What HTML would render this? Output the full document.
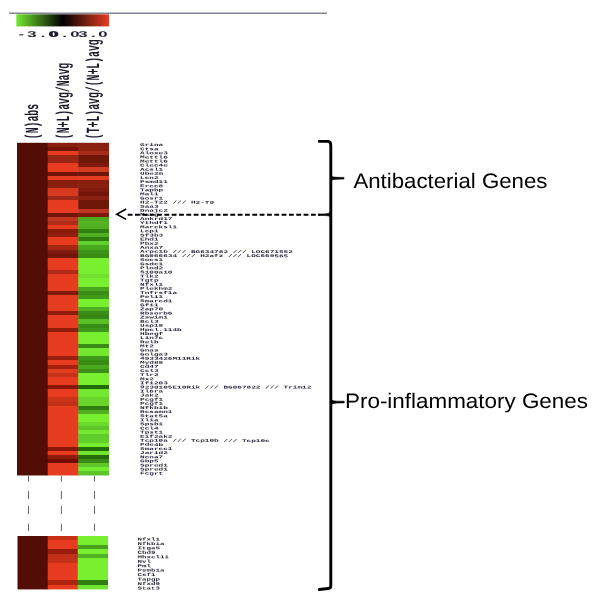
<!DOCTYPE html>
<html lang="en"><head><meta charset="utf-8"><title>Heatmap</title>
<style>html,body{margin:0;padding:0;background:#fff}body{width:600px;height:606px;overflow:hidden;position:relative}svg{position:absolute;left:0;top:0;display:block}text{text-rendering:geometricPrecision}.m{font-family:"Liberation Mono","DejaVu Sans Mono",monospace}.s{font-family:"Liberation Sans","DejaVu Sans",sans-serif}</style></head><body>
<svg width="600" height="606" viewBox="0 0 600 606">
<defs><linearGradient id="cb" x1="0" y1="0" x2="1" y2="0"><stop offset="0" stop-color="#74e82e"/><stop offset="0.5" stop-color="#000000"/><stop offset="1" stop-color="#e83c20"/></linearGradient></defs>
<rect x="0" y="0" width="600" height="606" fill="#ffffff"/>
<line x1="9" y1="13.3" x2="327" y2="13.3" stroke="#7f8591" stroke-width="1.4"/>
<rect x="16.3" y="14.3" width="92.7" height="12.1" fill="url(#cb)"/>
<g class="s" font-size="8.4" font-weight="bold" fill="#1c1c2c" text-anchor="middle">
<text transform="translate(0,37.1) scale(2.0,1)" x="10.65 15.95 21.60 26.50">-3.0</text>
<text transform="translate(0,37.1) scale(2.0,1)" x="27.15 32.25 37.50">0.0</text>
<text transform="translate(0,37.1) scale(2.0,1)" x="41.50 46.70 51.50">3.0</text>
</g>
<g class="m" font-size="9.8" font-weight="bold" fill="#1c1c2c">
<text transform="translate(37.6,139.2) scale(1.9,1) rotate(-90)">(N)abs</text>
<text transform="translate(69.0,139.2) scale(1.9,1) rotate(-90)">(N+L)avg/Navg</text>
<text transform="translate(99.0,139.2) scale(1.9,1) rotate(-90)">(T+L)avg/(N+L)avg</text>
</g>
<defs><linearGradient id="u2" x1="0" y1="0" x2="0" y2="1"><stop offset="0.00000" stop-color="#8a2010"/><stop offset="0.01235" stop-color="#8a2010"/><stop offset="0.01235" stop-color="#701508"/><stop offset="0.02469" stop-color="#701508"/><stop offset="0.02469" stop-color="#e83c20"/><stop offset="0.03704" stop-color="#e83c20"/><stop offset="0.03704" stop-color="#982414"/><stop offset="0.04938" stop-color="#982414"/><stop offset="0.04938" stop-color="#9c2616"/><stop offset="0.06173" stop-color="#9c2616"/><stop offset="0.06173" stop-color="#e83c20"/><stop offset="0.08642" stop-color="#e83c20"/><stop offset="0.08642" stop-color="#701508"/><stop offset="0.09877" stop-color="#701508"/><stop offset="0.09877" stop-color="#e83c20"/><stop offset="0.11111" stop-color="#e83c20"/><stop offset="0.11111" stop-color="#881e0e"/><stop offset="0.12346" stop-color="#881e0e"/><stop offset="0.12346" stop-color="#8a2010"/><stop offset="0.13580" stop-color="#8a2010"/><stop offset="0.13580" stop-color="#d83a20"/><stop offset="0.16049" stop-color="#d83a20"/><stop offset="0.16049" stop-color="#a02818"/><stop offset="0.17284" stop-color="#a02818"/><stop offset="0.17284" stop-color="#e83c20"/><stop offset="0.20988" stop-color="#e83c20"/><stop offset="0.20988" stop-color="#701508"/><stop offset="0.22222" stop-color="#701508"/><stop offset="0.22222" stop-color="#c03520"/><stop offset="0.23457" stop-color="#c03520"/><stop offset="0.23457" stop-color="#b02c18"/><stop offset="0.24691" stop-color="#b02c18"/><stop offset="0.24691" stop-color="#e83c20"/><stop offset="0.25926" stop-color="#e83c20"/><stop offset="0.25926" stop-color="#8a1c0c"/><stop offset="0.27160" stop-color="#8a1c0c"/><stop offset="0.27160" stop-color="#901e0e"/><stop offset="0.28395" stop-color="#901e0e"/><stop offset="0.28395" stop-color="#e83c20"/><stop offset="0.30864" stop-color="#e83c20"/><stop offset="0.30864" stop-color="#a82816"/><stop offset="0.32099" stop-color="#a82816"/><stop offset="0.32099" stop-color="#801a0c"/><stop offset="0.33333" stop-color="#801a0c"/><stop offset="0.33333" stop-color="#701508"/><stop offset="0.34568" stop-color="#701508"/><stop offset="0.34568" stop-color="#e83c20"/><stop offset="0.38272" stop-color="#e83c20"/><stop offset="0.38272" stop-color="#b02c18"/><stop offset="0.39506" stop-color="#b02c18"/><stop offset="0.39506" stop-color="#e83c20"/><stop offset="0.44444" stop-color="#e83c20"/><stop offset="0.44444" stop-color="#801a0c"/><stop offset="0.45679" stop-color="#801a0c"/><stop offset="0.45679" stop-color="#e83c20"/><stop offset="0.50617" stop-color="#e83c20"/><stop offset="0.50617" stop-color="#901c0c"/><stop offset="0.51852" stop-color="#901c0c"/><stop offset="0.51852" stop-color="#e83c20"/><stop offset="0.55556" stop-color="#e83c20"/><stop offset="0.55556" stop-color="#901c0c"/><stop offset="0.56790" stop-color="#901c0c"/><stop offset="0.56790" stop-color="#e83c20"/><stop offset="0.64198" stop-color="#e83c20"/><stop offset="0.64198" stop-color="#9a200e"/><stop offset="0.65432" stop-color="#9a200e"/><stop offset="0.65432" stop-color="#e83c20"/><stop offset="0.66667" stop-color="#e83c20"/><stop offset="0.66667" stop-color="#a4220f"/><stop offset="0.67901" stop-color="#a4220f"/><stop offset="0.67901" stop-color="#e03c20"/><stop offset="0.69136" stop-color="#e03c20"/><stop offset="0.69136" stop-color="#c83218"/><stop offset="0.70370" stop-color="#c83218"/><stop offset="0.70370" stop-color="#e83c20"/><stop offset="0.72840" stop-color="#e83c20"/><stop offset="0.72840" stop-color="#8a160a"/><stop offset="0.74074" stop-color="#8a160a"/><stop offset="0.74074" stop-color="#e83c20"/><stop offset="0.76543" stop-color="#e83c20"/><stop offset="0.76543" stop-color="#cc341a"/><stop offset="0.77778" stop-color="#cc341a"/><stop offset="0.77778" stop-color="#c03018"/><stop offset="0.79012" stop-color="#c03018"/><stop offset="0.79012" stop-color="#e83c20"/><stop offset="0.91358" stop-color="#e83c20"/><stop offset="0.91358" stop-color="#8a160a"/><stop offset="0.92593" stop-color="#8a160a"/><stop offset="0.92593" stop-color="#e83c20"/><stop offset="0.93827" stop-color="#e83c20"/><stop offset="0.93827" stop-color="#901a0c"/><stop offset="0.95062" stop-color="#901a0c"/><stop offset="0.95062" stop-color="#700c04"/><stop offset="0.96296" stop-color="#700c04"/><stop offset="0.96296" stop-color="#e83c20"/><stop offset="1.00000" stop-color="#e83c20"/></linearGradient><linearGradient id="u3" x1="0" y1="0" x2="0" y2="1"><stop offset="0.00000" stop-color="#8a2010"/><stop offset="0.02469" stop-color="#8a2010"/><stop offset="0.02469" stop-color="#a82c1a"/><stop offset="0.03704" stop-color="#a82c1a"/><stop offset="0.03704" stop-color="#701808"/><stop offset="0.06173" stop-color="#701808"/><stop offset="0.06173" stop-color="#801a0c"/><stop offset="0.07407" stop-color="#801a0c"/><stop offset="0.07407" stop-color="#d03c22"/><stop offset="0.08642" stop-color="#d03c22"/><stop offset="0.08642" stop-color="#701508"/><stop offset="0.09877" stop-color="#701508"/><stop offset="0.09877" stop-color="#e83c20"/><stop offset="0.11111" stop-color="#e83c20"/><stop offset="0.11111" stop-color="#881e0e"/><stop offset="0.12346" stop-color="#881e0e"/><stop offset="0.12346" stop-color="#8a2010"/><stop offset="0.13580" stop-color="#8a2010"/><stop offset="0.13580" stop-color="#801a0c"/><stop offset="0.14815" stop-color="#801a0c"/><stop offset="0.14815" stop-color="#701508"/><stop offset="0.16049" stop-color="#701508"/><stop offset="0.16049" stop-color="#8a2010"/><stop offset="0.17284" stop-color="#8a2010"/><stop offset="0.17284" stop-color="#701808"/><stop offset="0.19753" stop-color="#701808"/><stop offset="0.19753" stop-color="#c03520"/><stop offset="0.20988" stop-color="#c03520"/><stop offset="0.20988" stop-color="#801a0c"/><stop offset="0.22222" stop-color="#801a0c"/><stop offset="0.22222" stop-color="#4cac20"/><stop offset="0.23457" stop-color="#4cac20"/><stop offset="0.23457" stop-color="#54b424"/><stop offset="0.24691" stop-color="#54b424"/><stop offset="0.24691" stop-color="#50b022"/><stop offset="0.25926" stop-color="#50b022"/><stop offset="0.25926" stop-color="#308210"/><stop offset="0.27160" stop-color="#308210"/><stop offset="0.27160" stop-color="#50b022"/><stop offset="0.28395" stop-color="#50b022"/><stop offset="0.28395" stop-color="#2f7f10"/><stop offset="0.29630" stop-color="#2f7f10"/><stop offset="0.29630" stop-color="#62d030"/><stop offset="0.30864" stop-color="#62d030"/><stop offset="0.30864" stop-color="#48a81e"/><stop offset="0.32099" stop-color="#48a81e"/><stop offset="0.32099" stop-color="#3c9418"/><stop offset="0.33333" stop-color="#3c9418"/><stop offset="0.33333" stop-color="#388c14"/><stop offset="0.34568" stop-color="#388c14"/><stop offset="0.34568" stop-color="#78f030"/><stop offset="0.39506" stop-color="#78f030"/><stop offset="0.39506" stop-color="#70e02e"/><stop offset="0.40741" stop-color="#70e02e"/><stop offset="0.40741" stop-color="#78f030"/><stop offset="0.43210" stop-color="#78f030"/><stop offset="0.43210" stop-color="#48a81e"/><stop offset="0.44444" stop-color="#48a81e"/><stop offset="0.44444" stop-color="#3a8c18"/><stop offset="0.45679" stop-color="#3a8c18"/><stop offset="0.45679" stop-color="#409a1a"/><stop offset="0.46914" stop-color="#409a1a"/><stop offset="0.46914" stop-color="#78f030"/><stop offset="0.49383" stop-color="#78f030"/><stop offset="0.49383" stop-color="#50b022"/><stop offset="0.50617" stop-color="#50b022"/><stop offset="0.50617" stop-color="#3a8c18"/><stop offset="0.51852" stop-color="#3a8c18"/><stop offset="0.51852" stop-color="#358614"/><stop offset="0.53086" stop-color="#358614"/><stop offset="0.53086" stop-color="#58c024"/><stop offset="0.54321" stop-color="#58c024"/><stop offset="0.54321" stop-color="#388a16"/><stop offset="0.55556" stop-color="#388a16"/><stop offset="0.55556" stop-color="#40981a"/><stop offset="0.56790" stop-color="#40981a"/><stop offset="0.56790" stop-color="#78f030"/><stop offset="0.60494" stop-color="#78f030"/><stop offset="0.60494" stop-color="#388c14"/><stop offset="0.61728" stop-color="#388c14"/><stop offset="0.61728" stop-color="#74e830"/><stop offset="0.64198" stop-color="#74e830"/><stop offset="0.64198" stop-color="#40981a"/><stop offset="0.65432" stop-color="#40981a"/><stop offset="0.65432" stop-color="#388c14"/><stop offset="0.66667" stop-color="#388c14"/><stop offset="0.66667" stop-color="#48a81e"/><stop offset="0.67901" stop-color="#48a81e"/><stop offset="0.67901" stop-color="#3c9018"/><stop offset="0.69136" stop-color="#3c9018"/><stop offset="0.69136" stop-color="#78f030"/><stop offset="0.72840" stop-color="#78f030"/><stop offset="0.72840" stop-color="#206c08"/><stop offset="0.74074" stop-color="#206c08"/><stop offset="0.74074" stop-color="#74e830"/><stop offset="0.76543" stop-color="#74e830"/><stop offset="0.76543" stop-color="#68d42c"/><stop offset="0.79012" stop-color="#68d42c"/><stop offset="0.79012" stop-color="#2f7f10"/><stop offset="0.80247" stop-color="#2f7f10"/><stop offset="0.80247" stop-color="#50b022"/><stop offset="0.81481" stop-color="#50b022"/><stop offset="0.81481" stop-color="#78f030"/><stop offset="0.83951" stop-color="#78f030"/><stop offset="0.83951" stop-color="#6cdc2c"/><stop offset="0.85185" stop-color="#6cdc2c"/><stop offset="0.85185" stop-color="#5ec82a"/><stop offset="0.86420" stop-color="#5ec82a"/><stop offset="0.86420" stop-color="#74e830"/><stop offset="0.87654" stop-color="#74e830"/><stop offset="0.87654" stop-color="#60cc2a"/><stop offset="0.88889" stop-color="#60cc2a"/><stop offset="0.88889" stop-color="#62d02c"/><stop offset="0.90123" stop-color="#62d02c"/><stop offset="0.90123" stop-color="#78f030"/><stop offset="0.91358" stop-color="#78f030"/><stop offset="0.91358" stop-color="#206c08"/><stop offset="0.92593" stop-color="#206c08"/><stop offset="0.92593" stop-color="#70e42e"/><stop offset="0.93827" stop-color="#70e42e"/><stop offset="0.93827" stop-color="#246a08"/><stop offset="0.95062" stop-color="#246a08"/><stop offset="0.95062" stop-color="#388c14"/><stop offset="0.96296" stop-color="#388c14"/><stop offset="0.96296" stop-color="#5ec82a"/><stop offset="0.97531" stop-color="#5ec82a"/><stop offset="0.97531" stop-color="#74ec30"/><stop offset="0.98765" stop-color="#74ec30"/><stop offset="0.98765" stop-color="#5cc428"/><stop offset="1.00000" stop-color="#5cc428"/></linearGradient><linearGradient id="l2" x1="0" y1="0" x2="0" y2="1"><stop offset="0.00000" stop-color="#c83018"/><stop offset="0.08333" stop-color="#c83018"/><stop offset="0.08333" stop-color="#e83c20"/><stop offset="0.25000" stop-color="#e83c20"/><stop offset="0.25000" stop-color="#9a1c0c"/><stop offset="0.33333" stop-color="#9a1c0c"/><stop offset="0.33333" stop-color="#c03018"/><stop offset="0.41667" stop-color="#c03018"/><stop offset="0.41667" stop-color="#c43018"/><stop offset="0.50000" stop-color="#c43018"/><stop offset="0.50000" stop-color="#e83c20"/><stop offset="0.83333" stop-color="#e83c20"/><stop offset="0.83333" stop-color="#b0240f"/><stop offset="0.91667" stop-color="#b0240f"/><stop offset="0.91667" stop-color="#e83c20"/><stop offset="1.00000" stop-color="#e83c20"/></linearGradient><linearGradient id="l3" x1="0" y1="0" x2="0" y2="1"><stop offset="0.00000" stop-color="#78f030"/><stop offset="0.16667" stop-color="#78f030"/><stop offset="0.16667" stop-color="#48a01c"/><stop offset="0.25000" stop-color="#48a01c"/><stop offset="0.25000" stop-color="#78f030"/><stop offset="0.33333" stop-color="#78f030"/><stop offset="0.33333" stop-color="#54b024"/><stop offset="0.41667" stop-color="#54b024"/><stop offset="0.41667" stop-color="#78f030"/><stop offset="0.83333" stop-color="#78f030"/><stop offset="0.83333" stop-color="#2f7f10"/><stop offset="0.91667" stop-color="#2f7f10"/><stop offset="0.91667" stop-color="#70e42e"/><stop offset="1.00000" stop-color="#70e42e"/></linearGradient></defs>
<g>
<rect x="17.0" y="142.8" width="31.30" height="332.67" fill="#520d06"/>
<rect x="47.7" y="142.8" width="31.20" height="332.67" fill="url(#u2)"/>
<rect x="78.3" y="142.8" width="30.70" height="332.67" fill="url(#u3)"/>
</g>
<g>
<rect x="17.5" y="536.0" width="30.85" height="53.40" fill="#520d06"/>
<rect x="47.75" y="536.0" width="30.60" height="53.40" fill="url(#l2)"/>
<rect x="77.75" y="536.0" width="30.25" height="53.40" fill="url(#l3)"/>
</g>
<path d="M28.5 475.8V481.7M28.5 491V499M28.5 506V514M28.5 523.7V531" stroke="#55555a" stroke-width="0.9" fill="none"/>
<path d="M61.4 475.8V481.7M61.4 491V499M61.4 506V514M61.4 523.7V531" stroke="#55555a" stroke-width="0.9" fill="none"/>
<path d="M94.5 475.8V481.7M94.5 491V499M94.5 506V514M94.5 523.7V531" stroke="#55555a" stroke-width="0.9" fill="none"/>
<g class="m" font-size="7.73" font-weight="bold" fill="#26263a">
<text transform="translate(140,146.05) scale(1,0.54) rotate(0.15)">Grina</text>
<text transform="translate(140,150.16) scale(1,0.54) rotate(0.15)">Ctsa</text>
<text transform="translate(140,154.27) scale(1,0.54) rotate(0.15)">Aloxe3</text>
<text transform="translate(140,158.37) scale(1,0.54) rotate(0.15)">Mettl6</text>
<text transform="translate(140,162.48) scale(1,0.54) rotate(0.15)">Mettl6</text>
<text transform="translate(140,166.59) scale(1,0.54) rotate(0.15)">Clec4e</text>
<text transform="translate(140,170.70) scale(1,0.54) rotate(0.15)">Acsl1</text>
<text transform="translate(140,174.80) scale(1,0.54) rotate(0.15)">Ube2m</text>
<text transform="translate(140,178.91) scale(1,0.54) rotate(0.15)">Lcn2</text>
<text transform="translate(140,183.02) scale(1,0.54) rotate(0.15)">Psmd11</text>
<text transform="translate(140,187.12) scale(1,0.54) rotate(0.15)">Ercc8</text>
<text transform="translate(140,191.23) scale(1,0.54) rotate(0.15)">Tapbp</text>
<text transform="translate(140,195.34) scale(1,0.54) rotate(0.15)">Mal1</text>
<text transform="translate(140,199.44) scale(1,0.54) rotate(0.15)">Gosr1</text>
<text transform="translate(140,203.55) scale(1,0.54) rotate(0.15)">H2-T22 /// H2-T9</text>
<text transform="translate(140,207.66) scale(1,0.54) rotate(0.15)">Saa3</text>
<text transform="translate(140,211.77) scale(1,0.54) rotate(0.15)">Dnajc2</text>
<text transform="translate(140,215.87) scale(1,0.54) rotate(0.15)">Marg</text>
<text transform="translate(140,219.98) scale(1,0.54) rotate(0.15)">Ankrd17</text>
<text transform="translate(140,224.09) scale(1,0.54) rotate(0.15)">Ythdf1</text>
<text transform="translate(140,228.19) scale(1,0.54) rotate(0.15)">Marcksl1</text>
<text transform="translate(140,232.30) scale(1,0.54) rotate(0.15)">Lcp1</text>
<text transform="translate(140,236.41) scale(1,0.54) rotate(0.15)">Sf3b3</text>
<text transform="translate(140,240.51) scale(1,0.54) rotate(0.15)">Ehd1</text>
<text transform="translate(140,244.62) scale(1,0.54) rotate(0.15)">Pbx2</text>
<text transform="translate(140,248.73) scale(1,0.54) rotate(0.15)">Anxa7</text>
<text transform="translate(140,252.84) scale(1,0.54) rotate(0.15)">Arpc1b /// BG634782 /// LOC671552</text>
<text transform="translate(140,256.94) scale(1,0.54) rotate(0.15)">BG066634 /// H2afz /// LOC669565</text>
<text transform="translate(140,261.05) scale(1,0.54) rotate(0.15)">Socs1</text>
<text transform="translate(140,265.16) scale(1,0.54) rotate(0.15)">Gsdc1</text>
<text transform="translate(140,269.26) scale(1,0.54) rotate(0.15)">Plod2</text>
<text transform="translate(140,273.37) scale(1,0.54) rotate(0.15)">S100a10</text>
<text transform="translate(140,277.48) scale(1,0.54) rotate(0.15)">Tlk2</text>
<text transform="translate(140,281.58) scale(1,0.54) rotate(0.15)">Tgtp</text>
<text transform="translate(140,285.69) scale(1,0.54) rotate(0.15)">Nfxl1</text>
<text transform="translate(140,289.80) scale(1,0.54) rotate(0.15)">Plekhm2</text>
<text transform="translate(140,293.91) scale(1,0.54) rotate(0.15)">Tnfrsf1a</text>
<text transform="translate(140,298.01) scale(1,0.54) rotate(0.15)">Peli1</text>
<text transform="translate(140,302.12) scale(1,0.54) rotate(0.15)">Smarcd1</text>
<text transform="translate(140,306.23) scale(1,0.54) rotate(0.15)">Gfi1</text>
<text transform="translate(140,310.33) scale(1,0.54) rotate(0.15)">Zap70</text>
<text transform="translate(140,314.44) scale(1,0.54) rotate(0.15)">Rbsorb6</text>
<text transform="translate(140,318.55) scale(1,0.54) rotate(0.15)">Zswim1</text>
<text transform="translate(140,322.65) scale(1,0.54) rotate(0.15)">Bcl3</text>
<text transform="translate(140,326.76) scale(1,0.54) rotate(0.15)">Usp18</text>
<text transform="translate(140,330.87) scale(1,0.54) rotate(0.15)">Hpcl.114b</text>
<text transform="translate(140,334.98) scale(1,0.54) rotate(0.15)">Hbegf</text>
<text transform="translate(140,339.08) scale(1,0.54) rotate(0.15)">Lin7c</text>
<text transform="translate(140,343.19) scale(1,0.54) rotate(0.15)">Relb</text>
<text transform="translate(140,347.30) scale(1,0.54) rotate(0.15)">Mt2</text>
<text transform="translate(140,351.40) scale(1,0.54) rotate(0.15)">Gnas</text>
<text transform="translate(140,355.51) scale(1,0.54) rotate(0.15)">Golga3</text>
<text transform="translate(140,359.62) scale(1,0.54) rotate(0.15)">4933426M11Rik</text>
<text transform="translate(140,363.72) scale(1,0.54) rotate(0.15)">Myd88</text>
<text transform="translate(140,367.83) scale(1,0.54) rotate(0.15)">Cd47</text>
<text transform="translate(140,371.94) scale(1,0.54) rotate(0.15)">Ccl3</text>
<text transform="translate(140,376.05) scale(1,0.54) rotate(0.15)">Tlr2</text>
<text transform="translate(140,380.15) scale(1,0.54) rotate(0.15)">Mx2</text>
<text transform="translate(140,384.26) scale(1,0.54) rotate(0.15)">Ifi203</text>
<text transform="translate(140,388.37) scale(1,0.54) rotate(0.15)">9230105E10Rik /// BG067822 /// Trim12</text>
<text transform="translate(140,392.47) scale(1,0.54) rotate(0.15)">Il6ra</text>
<text transform="translate(140,396.58) scale(1,0.54) rotate(0.15)">Jak2</text>
<text transform="translate(140,400.69) scale(1,0.54) rotate(0.15)">Pcgf1</text>
<text transform="translate(140,404.79) scale(1,0.54) rotate(0.15)">Pcgf1</text>
<text transform="translate(140,408.90) scale(1,0.54) rotate(0.15)">Nfkbib</text>
<text transform="translate(140,413.01) scale(1,0.54) rotate(0.15)">Rcsamn1</text>
<text transform="translate(140,417.12) scale(1,0.54) rotate(0.15)">Stat5a</text>
<text transform="translate(140,421.22) scale(1,0.54) rotate(0.15)">Il1a</text>
<text transform="translate(140,425.33) scale(1,0.54) rotate(0.15)">Spsb1</text>
<text transform="translate(140,429.44) scale(1,0.54) rotate(0.15)">Ccl4</text>
<text transform="translate(140,433.54) scale(1,0.54) rotate(0.15)">Tpst1</text>
<text transform="translate(140,437.65) scale(1,0.54) rotate(0.15)">Eif2ak2</text>
<text transform="translate(140,441.76) scale(1,0.54) rotate(0.15)">Tcp10a /// Tcp10b /// Tcp10c</text>
<text transform="translate(140,445.86) scale(1,0.54) rotate(0.15)">Pde4b</text>
<text transform="translate(140,449.97) scale(1,0.54) rotate(0.15)">Smarcc1</text>
<text transform="translate(140,454.08) scale(1,0.54) rotate(0.15)">Jarid2</text>
<text transform="translate(140,458.19) scale(1,0.54) rotate(0.15)">Ncoa7</text>
<text transform="translate(140,462.29) scale(1,0.54) rotate(0.15)">Gbp5</text>
<text transform="translate(140,466.40) scale(1,0.54) rotate(0.15)">Spred1</text>
<text transform="translate(140,470.51) scale(1,0.54) rotate(0.15)">Spred1</text>
<text transform="translate(140,474.61) scale(1,0.54) rotate(0.15)">Fcgrt</text>
</g>
<g class="m" font-size="7.48" font-weight="bold" fill="#26263a">
<text transform="translate(137.6,540.43) scale(1,0.58) rotate(0.15)">Nfxl1</text>
<text transform="translate(137.6,544.88) scale(1,0.58) rotate(0.15)">Nfkbia</text>
<text transform="translate(137.6,549.33) scale(1,0.58) rotate(0.15)">Itga5</text>
<text transform="translate(137.6,553.78) scale(1,0.58) rotate(0.15)">Cbd9</text>
<text transform="translate(137.6,558.23) scale(1,0.58) rotate(0.15)">Mhxcl11</text>
<text transform="translate(137.6,562.68) scale(1,0.58) rotate(0.15)">Nvl</text>
<text transform="translate(137.6,567.12) scale(1,0.58) rotate(0.15)">Pml</text>
<text transform="translate(137.6,571.58) scale(1,0.58) rotate(0.15)">Psmb1a</text>
<text transform="translate(137.6,576.03) scale(1,0.58) rotate(0.15)">Csf1</text>
<text transform="translate(137.6,580.48) scale(1,0.58) rotate(0.15)">Tapgp</text>
<text transform="translate(137.6,584.93) scale(1,0.58) rotate(0.15)">Nfxd9</text>
<text transform="translate(137.6,589.38) scale(1,0.58) rotate(0.15)">Stat3</text>
</g>
<path d="M126.2 209 L116.7 214.2 L126.2 219.4" stroke="#000" stroke-width="1.6" fill="none"/>
<line x1="127.7" y1="214.8" x2="320" y2="214.8" stroke="#000" stroke-width="2.1" stroke-dasharray="4.83 2.5"/>
<g stroke="#000" stroke-width="2.9" fill="none" stroke-linecap="round" stroke-linejoin="round">
<path d="M319.2 141.4 H327.3 Q330.8 141.4 330.8 145.2 V585.8 Q330.8 588.2 328.4 588.5 L319.3 589.5"/>
</g>
<g fill="#000" stroke="#000" stroke-width="0.6" stroke-linejoin="round">
<path d="M331 176.0 Q333 177.3 337 177.3 L344 177.4 V179.0 L337 179.2 Q333 179.2 331 180.4 Z"/>
<path d="M331 399.8 Q333 401.2 337 401.2 L344.2 401.2 V402.9 L337 403 Q333 403 331 404.6 Z"/>
<path d="M330.6 212.3 Q328.6 213.9 324.6 213.9 L318.4 214 V215.5 L324.6 215.5 Q328.6 215.5 330.6 216.8 Z"/>
</g>
<g class="s" font-size="21.0" fill="#000">
<text x="353.4" y="187.9" textLength="194" lengthAdjust="spacingAndGlyphs">Antibacterial Genes</text>
<text x="345" y="407.9" textLength="243" lengthAdjust="spacingAndGlyphs">Pro-inflammatory Genes</text>
</g>
</svg></body></html>
